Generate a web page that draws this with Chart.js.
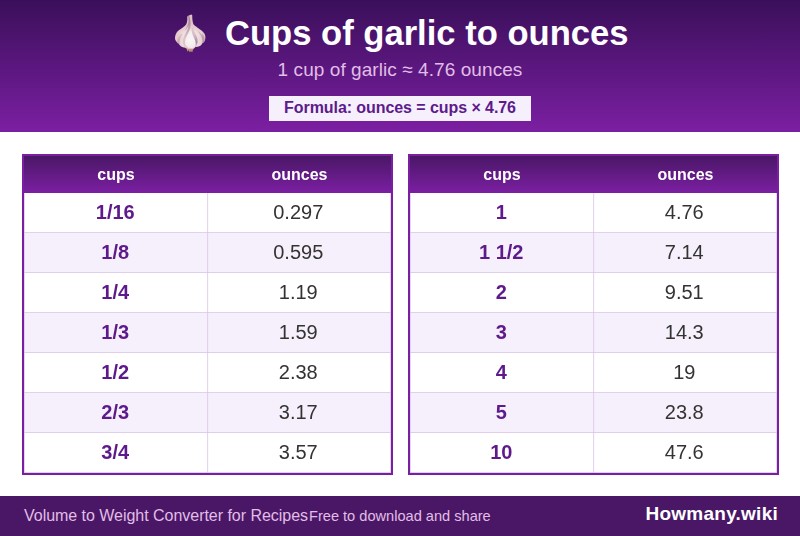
<!DOCTYPE html>
<html>
<head>
<meta charset="utf-8">
<title>Cups of garlic to ounces</title>
<script src="https://cdn.jsdelivr.net/npm/chart.js@4"></script>
<style>
html, body { margin: 0; padding: 0; background: #fff; }
body { position: relative; width: 800px; height: 536px; overflow: hidden; font-family: "Liberation Sans", Arial, sans-serif; }
.header { position: absolute; left: 0; top: 0; width: 800px; height: 132px; background: linear-gradient(180deg, #3a0f5a 0%, #7b1fa2 100%); }
.title { position: absolute; left: 169px; top: 12px; color: #fff; font-size: 34.6px; font-weight: bold; line-height: 42px; white-space: pre; }
.title .icon { font-size: 34px; margin-right: 14px; }
.subtitle { position: absolute; left: 0; top: 59px; width: 800px; text-align: center; color: #e1bee7; font-size: 19px; line-height: 22px; letter-spacing: 0.07px; }
.formula { position: absolute; left: 269px; top: 96px; width: 262px; height: 25px; line-height: 23px; text-align: center; background: #f5f0fb; color: #5e1a8b; font-size: 16px; font-weight: bold; letter-spacing: -0.07px; }
.box { position: absolute; top: 154px; width: 367px; height: 317px; border: 2px solid #7b1fa2; }
.box canvas { display: block; }
.footer { position: absolute; left: 0; top: 496px; width: 800px; height: 40px; background: #4a1766; line-height: 40px; }
.footer span { position: absolute; white-space: pre; }
.f1 { left: 24px; color: #e1bee7; font-size: 16px; letter-spacing: -0.03px; }
.f2 { left: 309px; color: #e1bee7; font-size: 14.6px; }
.f3 { right: 22px; top: -2px; color: #fff; font-size: 19px; font-weight: bold; letter-spacing: 0.25px; }
</style>
</head>
<body>
<div class="header">
  <div class="title"><span class="icon">🧄</span><span>Cups of garlic to ounces</span></div>
  <div class="subtitle">1 cup of garlic ≈ 4.76 ounces</div>
  <div class="formula">Formula: ounces = cups × 4.76</div>
</div>
<div class="box" style="left:22px"><canvas id="tableLeft" width="367" height="317"></canvas></div>
<div class="box" style="left:408px"><canvas id="tableRight" width="367" height="317"></canvas></div>
<div class="footer">
  <span class="f1">Volume to Weight Converter for Recipes</span>
  <span class="f2">Free to download and share</span>
  <span class="f3">Howmany.wiki</span>
</div>
<script>
const columns = ['cups', 'ounces'];
const cupsLeft = ['1/16', '1/8', '1/4', '1/3', '1/2', '2/3', '3/4'];
const ouncesLeft = ['0.297', '0.595', '1.19', '1.59', '2.38', '3.17', '3.57'];
const cupsRight = ['1', '1 1/2', '2', '3', '4', '5', '10'];
const ouncesRight = ['4.76', '7.14', '9.51', '14.3', '19', '23.8', '47.6'];

const purple = '#7b1fa2';
const dark = '#4a1766';
const cellLine = '#d8c2e6';

// First column is 184px of the 367px canvas, so the divider lands on a whole pixel
const xMax = 367 / 184;
const cupsMid = 0.5;
const ouncesMid = 1 + (xMax - 1) / 2;

// Header gradient sits behind the x axis labels
const headerPlugin = {
    id: 'headerBand',
    beforeDraw(chart) {
        const ctx = chart.ctx;
        const top = chart.chartArea.top;
        const grad = ctx.createLinearGradient(0, 0, 0, top);
        grad.addColorStop(0, dark);
        grad.addColorStop(1, purple);
        ctx.save();
        ctx.fillStyle = grad;
        ctx.fillRect(0, 0, chart.width, top);
        ctx.restore();
    }
};

// Cell text, placed with the chart's own scales
const cellTextPlugin = {
    id: 'cellText',
    afterDatasetsDraw(chart, args, opts) {
        const ctx = chart.ctx;
        const x = chart.scales.x;
        const y = chart.scales.y;
        ctx.save();
        ctx.textAlign = 'center';
        ctx.textBaseline = 'middle';
        opts.cups.forEach((label, i) => {
            ctx.font = 'bold 20px "Liberation Sans"';
            ctx.fillStyle = '#5e1a8b';
            ctx.fillText(label, x.getPixelForValue(cupsMid) - 0.75, y.getPixelForValue(i));
            ctx.font = '20px "Liberation Sans"';
            ctx.fillStyle = '#333333';
            ctx.fillText(opts.ounces[i], x.getPixelForValue(ouncesMid) - 1.25, y.getPixelForValue(i));
        });
        ctx.restore();
    }
};

function makeTable(id, cups, ounces) {
    const rowFill = ctx => ctx.dataIndex % 2 ? '#f5f0fb' : '#ffffff';
    new Chart(document.getElementById(id), {
        type: 'bar',
        data: {
            labels: cups,
            datasets: [{
                data: cups.map(() => 1),
                backgroundColor: rowFill,
                borderColor: cellLine,
                borderWidth: { left: 1, right: 1, bottom: 1 },
                borderSkipped: false,
                barPercentage: 1,
                categoryPercentage: 1
            }, {
                data: cups.map(() => xMax - 1),
                backgroundColor: rowFill,
                borderColor: cellLine,
                borderWidth: { right: 1, bottom: 1 },
                borderSkipped: false,
                barPercentage: 1,
                categoryPercentage: 1
            }]
        },
        options: {
            indexAxis: 'y',
            responsive: false,
            animation: false,
            events: [],
            layout: { padding: 0 },
            plugins: {
                legend: { display: false },
                tooltip: { enabled: false },
                cellText: { cups, ounces }
            },
            scales: {
                x: {
                    position: 'top',
                    stacked: true,
                    min: 0,
                    max: xMax,
                    grid: { display: false, drawTicks: false },
                    border: { display: false },
                    afterFit(scale) { scale.height = 37; },
                    afterBuildTicks(scale) { scale.ticks = [{ value: cupsMid }, { value: ouncesMid }]; },
                    ticks: {
                        autoSkip: false,
                        maxRotation: 0,
                        padding: 8,
                        color: '#ffffff',
                        font: { family: '"Liberation Sans"', size: 16, weight: 'bold' },
                        callback: value => columns[Math.floor(value)]
                    }
                },
                y: { display: false, stacked: true, offset: true }
            }
        },
        plugins: [headerPlugin, cellTextPlugin]
    });
}

makeTable('tableLeft', cupsLeft, ouncesLeft);
makeTable('tableRight', cupsRight, ouncesRight);
</script>
</body>
</html>
